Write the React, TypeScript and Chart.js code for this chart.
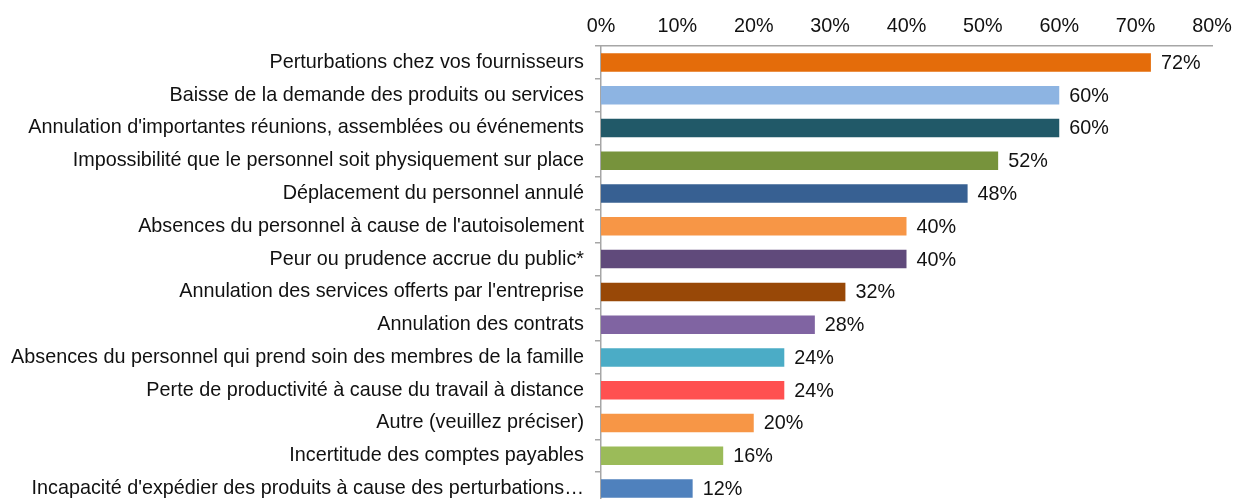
import React, { useEffect, useRef } from 'react';
import { Chart, registerables } from 'chart.js';

Chart.register(...registerables);

const categories = [
  'Perturbations chez vos fournisseurs',
  'Baisse de la demande des produits ou services',
  "Annulation d'importantes réunions, assemblées ou événements",
  'Impossibilité que le personnel soit physiquement sur place',
  'Déplacement du personnel annulé',
  "Absences du personnel à cause de l'autoisolement",
  'Peur ou prudence accrue du public*',
  "Annulation des services offerts par l'entreprise",
  'Annulation des contrats',
  'Absences du personnel qui prend soin des membres de la famille',
  'Perte de productivité à cause du travail à distance',
  'Autre (veuillez préciser)',
  'Incertitude des comptes payables',
  "Incapacité d'expédier des produits à cause des perturbations…",
];

const values = [72, 60, 60, 52, 48, 40, 40, 32, 28, 24, 24, 20, 16, 12];

const barColors = [
  '#E46C0A',
  '#8DB4E2',
  '#215968',
  '#77933C',
  '#376092',
  '#F79646',
  '#604A7B',
  '#984807',
  '#8064A2',
  '#4BACC6',
  '#FF5050',
  '#F79646',
  '#9BBB59',
  '#4F81BD',
];

const xTickValues = [0, 10, 20, 30, 40, 50, 60, 70, 80];

const FONT_FAMILY = '"Liberation Sans", Arial, sans-serif';
const FONT_SIZE = 19.8;
const TEXT_COLOR = '#111111';
const AXIS_COLOR = '#A6A6A6';

export default function App() {
  const ref = useRef<HTMLCanvasElement>(null);

  useEffect(() => {
    if (!ref.current) return;
    const valueLabels = {
      id: 'valueLabels',
      afterDatasetsDraw(chart: any) {
        const ctx = chart.ctx;
        const meta = chart.getDatasetMeta(0);
        ctx.save();
        ctx.font = `${FONT_SIZE}px ${FONT_FAMILY}`;
        ctx.fillStyle = TEXT_COLOR;
        ctx.textAlign = 'left';
        ctx.textBaseline = 'middle';
        meta.data.forEach((bar: any, i: number) => {
          ctx.fillText(values[i] + '%', bar.x + 10, bar.y + 1);
        });
        ctx.restore();
      },
    };

    const chart = new Chart(ref.current, {
      type: 'bar',
      data: {
        labels: categories,
        datasets: [
          {
            data: values,
            backgroundColor: barColors,
            barPercentage: 0.565,
            categoryPercentage: 1,
          },
        ],
      },
      options: {
        indexAxis: 'y',
        responsive: false,
        animation: false,
        layout: { padding: 0 },
        plugins: {
          legend: { display: false },
          tooltip: { enabled: false },
        },
        scales: {
          x: {
            position: 'top',
            min: 0,
            max: 80,
            afterBuildTicks(scale: any) {
              scale.ticks = xTickValues.map((v) => ({ value: v }));
            },
            ticks: {
              callback: (v: any) => v + '%',
              color: TEXT_COLOR,
              font: { family: FONT_FAMILY, size: FONT_SIZE },
              padding: 8,
              maxRotation: 0,
            },
            grid: { display: false, drawTicks: false },
            border: { display: true, color: AXIS_COLOR, width: 1.5 },
            afterFit(scale: any) {
              scale.height = 46;
              scale.paddingLeft = 0;
              scale.paddingRight = 21;
            },
          },
          y: {
            ticks: {
              color: TEXT_COLOR,
              font: { family: FONT_FAMILY, size: FONT_SIZE },
              padding: 11,
              autoSkip: false,
            },
            grid: {
              display: true,
              drawOnChartArea: false,
              drawTicks: true,
              tickLength: 6,
              color: AXIS_COLOR,
              offset: true,
              lineWidth: 1.5,
            },
            border: { display: true, color: AXIS_COLOR, width: 1.5 },
            afterFit(scale: any) {
              scale.width = 601;
              scale.paddingTop = 0;
              scale.paddingBottom = 0;
            },
          },
        },
      },
      plugins: [valueLabels],
    } as any);

    return () => chart.destroy();
  }, []);

  return (
    <div
      style={{
        position: 'fixed',
        left: 0,
        top: 0,
        width: 1233,
        height: 499,
        overflow: 'hidden',
        background: '#ffffff',
      }}
    >
      <canvas ref={ref} width={1233} height={505} style={{ display: 'block' }} />
    </div>
  );
}
